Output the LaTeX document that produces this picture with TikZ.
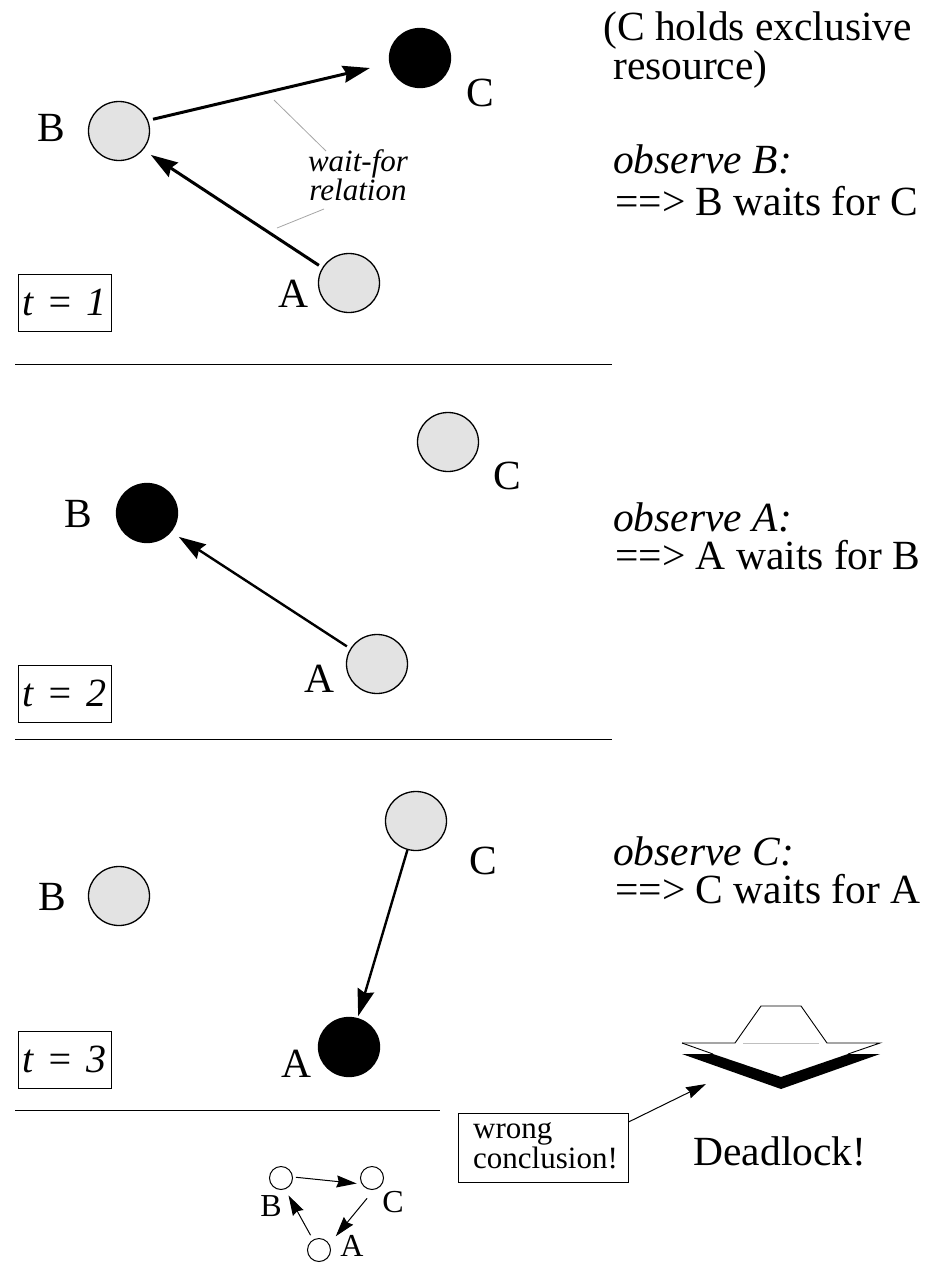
\documentclass[tikz,border=0pt]{standalone}
\usepackage{fontspec}
\setmainfont{Liberation Serif}
\usetikzlibrary{arrows.meta,shapes.geometric}
\tikzset{
  x=1pt,y=-1pt,
  proc/.style={ellipse,draw=black,line width=1.3pt,fill=procgray,minimum width=61pt,minimum height=59pt,inner sep=0pt},
  held/.style={proc,fill=black},
  small/.style={circle,draw=black,line width=1pt,minimum size=23pt,inner sep=0pt},
  big/.style={font=\fontsize{41.5}{41.5}\selectfont,inner sep=0pt},
  tiny/.style={font=\fontsize{32}{32}\selectfont,inner sep=0pt},
  note/.style={font=\fontsize{41.5}{41.5}\selectfont,inner sep=0pt,anchor=base west},
  noteit/.style={note,font=\fontsize{41.5}{41.5}\selectfont\itshape},
  timebox/.style={draw=black,line width=1pt,font=\fontsize{40}{40}\selectfont\itshape,text width=93pt,align=center,text height=41pt,text depth=16pt,inner sep=0pt},
  waitarrow/.style={line width=3pt,-{Stealth[length=27pt,width=17pt,inset=3pt]}},
  waitarrowb/.style={line width=2.4pt,-{Stealth[length=27pt,width=17pt,inset=3pt]}},
  minarrow/.style={line width=1pt,-{Stealth[length=20pt,width=12pt,inset=2pt]}},
  rule/.style={draw=black,line width=1pt},
  leader/.style={draw=gray!70,line width=0.8pt},
}
\definecolor{procgray}{gray}{0.89}
\begin{document}
\begin{tikzpicture}
\useasboundingbox (0,0) rectangle (928,1264);
% t=1
\node[proc] (B1) at (119,131) {};
\node[held] (C1) at (420,58) {};
\node[proc] (A1) at (349,283) {};
\node[big] (lB1) at (51,128) {B};
\node[big] (lC1) at (480,93) {C};
\node[big] (lA1) at (293,294) {A};
\draw[waitarrow,shorten <=5pt,shorten >=20pt] (B1.20) -- (C1.190);
\draw[waitarrow,shorten <=4pt,shorten >=9pt] (A1.150) -- (B1.-38);
\node[font=\fontsize{31}{28}\selectfont\itshape,align=center,inner sep=0pt] (wf) at (358,175) {wait-for\\relation};
\coordinate (lead1) at (274,100);
\coordinate (lead2) at (277,228);
\coordinate (wf1) at (326,151);
\coordinate (wf2) at (324,209);
\draw[leader] (wf1) -- (lead1);
\draw[leader] (wf2) -- (lead2);
\node[timebox] (t1) at (64.5,302.5) {t = 1};
\coordinate (r1a) at (15,364); \coordinate (r1b) at (612,364);
\draw[rule] (r1a) -- (r1b);
% t=2
\node[held] (B2) at (147,513) {};
\node[proc] (C2) at (448,442) {};
\node[proc] (A2) at (377,664) {};
\node[big] (lB2) at (78,514) {B};
\node[big] (lC2) at (507,476) {C};
\node[big] (lA2) at (319.5,679) {A};
\draw[waitarrowb,shorten <=4pt,shorten >=9pt] (A2.150) -- (B2.-38);
\node[timebox] (t2) at (64.5,693.5) {t = 2};
\coordinate (r2a) at (15,739); \coordinate (r2b) at (612,739);
\draw[rule] (r2a) -- (r2b);
% t=3
\node[proc] (B3) at (119,896) {};
\node[proc] (C3) at (416,821) {};
\node[held] (A3) at (349,1047) {};
\node[big] (lB3) at (52,897) {B};
\node[big] (lC3) at (483,861) {C};
\node[big] (lA3) at (296,1064) {A};
\draw[waitarrowb,shorten >=2pt] (C3) -- (A3);
\node[timebox] (t3) at (64.5,1060) {t = 3};
\coordinate (r3a) at (15,1110); \coordinate (r3b) at (440,1110);
\draw[rule] (r3a) -- (r3b);
% notes
\node[note] (n1) at (603,40) {(C holds exclusive};
\node[note] (n2) at (613,79) {resource)};
\node[noteit] (n3) at (613,173) {observe B:};
\node[note] (n4) at (615,215) {==> B waits for C};
\node[noteit] (n5) at (613,531) {observe A:};
\node[note] (n6) at (615,569) {==> A waits for B};
\node[noteit] (n7) at (613,865) {observe C:};
\node[note] (n8) at (615,903) {==> C waits for A};
% mini graph
\node[small] (sB) at (281,1178) {};
\node[small] (sC) at (372,1178) {};
\node[small] (sA) at (319,1250) {};
\node[tiny] (slB) at (271,1206) {B};
\node[tiny] (slC) at (393,1202) {C};
\node[tiny] (slA) at (352,1246) {A};
\draw[minarrow,shorten <=3pt,shorten >=5pt] (sB.5) -- (sC.-150);
\draw[minarrow,shorten <=11pt,shorten >=10pt] (sC.-80) -- (sA.30);
\draw[minarrow,shorten <=5pt,shorten >=7pt] (sA.120) -- (sB.-70);
% wrong conclusion
\node[draw=black,line width=1pt,minimum width=170pt,minimum height=69pt,inner sep=0pt] (wrong) at (543,1147.5) {};
\node[font=\fontsize{31}{30}\selectfont,align=left,inner sep=0pt,anchor=west] (wrongtext) at (473,1146) {wrong\\conclusion!};
\coordinate (dlk) at (706,1084);
\draw[minarrow] (wrong.east |- 0,1122) -- (dlk);
% deadlock sign
\fill[black] (682,1054) -- (713,1054) -- (781,1077) -- (848,1054) -- (880,1054) -- (781,1089) -- cycle;
\draw[black,line width=0.9pt] (682,1043) -- (735,1043) -- (761,1006) -- (801,1006) -- (827,1043) -- (880,1043) -- (848,1054);
\draw[black,line width=0.9pt] (682,1043) -- (713,1054);
\draw[gray!50,line width=0.8pt] (743,1043) -- (819,1043);
\node[font=\fontsize{41.5}{41.5}\selectfont,inner sep=0pt] (dl) at (780,1151) {Deadlock!};
\end{tikzpicture}
\end{document}
